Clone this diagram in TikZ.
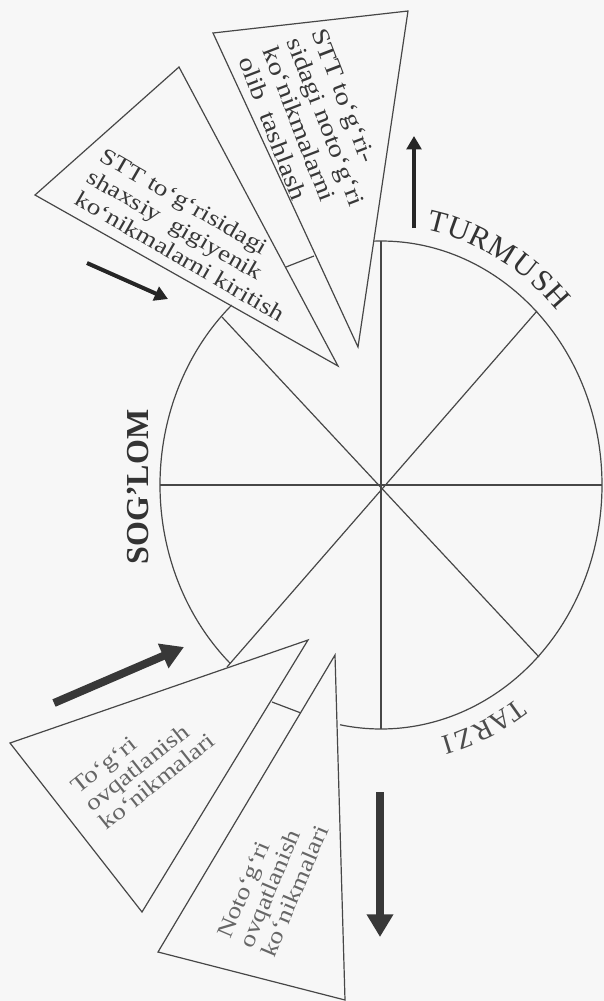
\documentclass[tikz,border=0pt]{standalone}
\usepackage{fontspec}
\setmainfont{Liberation Serif}
\newfontfamily\widefont[FakeStretch=1.2]{Liberation Serif}
\usetikzlibrary{arrows.meta,calc}
\begin{document}
\begin{tikzpicture}[x=0.75pt,y=-0.75pt]
\tikzset{
  ln/.style={draw=black!72, line width=0.9pt},
  tri/.style={draw=black!72, line width=0.9pt, line join=miter, miter limit=30},
  txt/.style={anchor=base west, inner sep=0pt, text=black!78, font=\widefont\fontsize{17}{20}\selectfont},
  txtb/.style={txt, font=\widefont\fontsize{18}{21}\selectfont},
  txtl/.style={txt, text=black!60},
  capl/.style={inner sep=0pt, text=black!80, font=\fontsize{23}{26}\selectfont},
  capt/.style={inner sep=0pt, text=black!70, font=\fontsize{21}{24}\selectfont},
  arrthin/.style={draw=black!85, line width=3pt, -{Triangle[length=10pt,width=11pt]}},
  arrthick/.style={draw=black!78, line width=6pt, -{Triangle[length=17pt,width=19pt]}},
}
\useasboundingbox (0,0) rectangle (604,1001);
\fill[black!3] (0,0) rectangle (604,1001);

% ellipse and spokes
\coordinate (C) at (381,485);
\coordinate (Etop) at (381,241);
\coordinate (Ebot) at (381,729);
\coordinate (El) at (160,485);
\coordinate (Er) at (602,485);
\coordinate (Eur) at (537,311);
\coordinate (Elr) at (539,657);
\coordinate (Eul) at (222,317);
\coordinate (Ell) at (227,667);
\draw[ln] (El) -- (Er);
\draw[ln] (Etop) -- (Ebot);
\draw[ln] (Eul) -- (Elr);
\draw[ln] (Eur) -- (Ell);
\draw[ln] (C) ++(-92:221 and 244) arc[start angle=-92, end angle=100.7, x radius=221, y radius=244];
\draw[ln] (C) ++(133:221 and 244) arc[start angle=133, end angle=227.5, x radius=221, y radius=244];

% triangles
\coordinate (t1a) at (213,33);  \coordinate (t1b) at (408,11);  \coordinate (t1c) at (358,347);
\coordinate (t2a) at (179,67);  \coordinate (t2b) at (35,195);  \coordinate (t2c) at (338,366);
\coordinate (t3a) at (10,743);  \coordinate (t3b) at (308,640); \coordinate (t3c) at (142,912);
\coordinate (t4a) at (335,655); \coordinate (t4b) at (158,952); \coordinate (t4c) at (345,1000);
\draw[tri] (t1a) -- (t1b) -- (t1c) -- cycle;
\draw[tri] (t2a) -- (t2b) -- (t2c) -- cycle;
\draw[tri] (t3a) -- (t3b) -- (t3c) -- cycle;
\draw[tri] (t4a) -- (t4b) -- (t4c) -- cycle;
% small ticks between paired triangles
\coordinate (k1a) at (286,267); \coordinate (k1b) at (314,256);
\coordinate (k2a) at (272,702); \coordinate (k2b) at (301,713);
\draw[ln] (k1a) -- (k1b);
\draw[ln] (k2a) -- (k2b);

% arrows
\coordinate (a1s) at (87,263);  \coordinate (a1e) at (168,299);
\coordinate (a2s) at (414,228); \coordinate (a2e) at (414,136);
\coordinate (a3s) at (54,703);  \coordinate (a3e) at (184,647);
\coordinate (a4s) at (380,792); \coordinate (a4e) at (380,937);
\draw[arrthin] (a1s) -- (a1e);
\draw[arrthin] (a2s) -- (a2e);
\draw[arrthick] (a3s) -- (a3e);
\draw[arrthick] (a4s) -- (a4e);

% texts in triangles
\begin{scope}[shift={(311,32)}, rotate=-69, transform shape]
  \node[txtb] (t1l1) at (0,0)  {STT to‘g‘ri-};
  \node[txtb] (t1l2) at (0,26) {sidagi noto‘g‘ri};
  \node[txtb] (t1l3) at (0,52) {ko‘nikmalarni};
  \node[txtb] (t1l4) at (0,78) {olib\ \ tashlash};
\end{scope}
\begin{scope}[shift={(98,160)}, rotate=-30, transform shape]
  \node[txt] (t2l1) at (0,0)  {STT to‘g‘risidagi};
  \node[txt] (t2l2) at (0,25) {shaxsiy\ \ gigiyenik};
  \node[txt] (t2l3) at (0,50) {ko‘nikmalarni kiritish};
\end{scope}
\begin{scope}[shift={(78,795)}, rotate=38.5, transform shape]
  \node[txtl] (t3l1) at (0,0)  {To‘g‘ri};
  \node[txtl] (t3l2) at (0,23) {ovqatlanish};
  \node[txtl] (t3l3) at (0,46) {ko‘nikmalari};
\end{scope}
\begin{scope}[shift={(230,940)}, rotate=67, transform shape]
  \node[txtl] (t4l1) at (0,0)  {Noto‘g‘ri};
  \node[txtl] (t4l2) at (0,24) {ovqatlanish};
  \node[txtl] (t4l3) at (0,48) {ko‘nikmalari};
\end{scope}

% side labels
\node[inner sep=0pt, text=black!80, font=\bfseries\fontsize{24}{28}\selectfont, rotate=90] (sog) at (138,487) {SOG’LOM};
\foreach \ch/\a [count=\i] in {T/-76.7, U/-71.5, R/-66.3, M/-60.5, U/-54.2, S/-49.1, H/-44.5}
  \node[capl, rotate={atan2(-270*cos(\a), -247*sin(\a))}] (turm\i) at ($(C)+(\a:247 and 270)$) {\ch};
\foreach \ch/\a [count=\i] in {T/56.9, A/60.9, R/65.6, Z/70.4, I/74.2}
  \node[capt, rotate={atan2(-270*cos(\a), -247*sin(\a))}] (tarz\i) at ($(C)+(\a:247 and 270)$) {\ch};
\end{tikzpicture}
\end{document}
